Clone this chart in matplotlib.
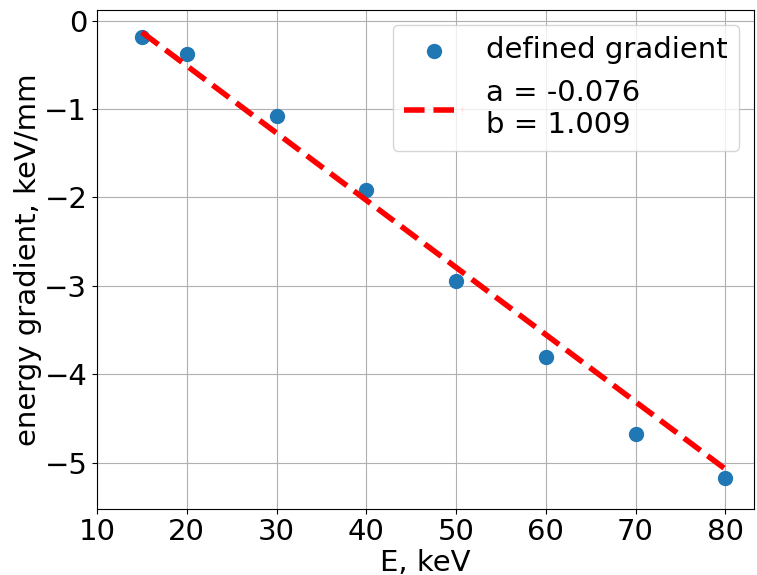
import matplotlib
matplotlib.use("Agg")
import matplotlib.pyplot as plt
import numpy as np

# measured energy gradient per beam energy
energy_kev = [15, 20, 30, 40, 50, 60, 70, 80]
gradient = [-0.18, -0.38, -1.08, -1.92, -2.94, -3.80, -4.68, -5.17]

# linear fit coefficients
fit_a = -0.076
fit_b = 1.009

plt.rcParams["font.size"] = 21

fig = plt.figure(figsize=(7.57, 5.75), dpi=100)
ax = fig.add_axes([97 / 757, (575 - 508.7) / 575, (754 - 97) / 757, (508.7 - 10) / 575])

ax.scatter(energy_kev, gradient, s=100, color="#1f77b4", label="defined gradient", zorder=2)
x_fit = np.array([energy_kev[0], energy_kev[-1]])
ax.plot(x_fit, fit_a * x_fit + fit_b, "--", color="red", lw=4,
        label=f"a = {fit_a:.3f}\nb = {fit_b:.3f}", zorder=3)

ax.set_xlim(10, 83.2)
ax.set_ylim(-5.52, 0.12)
ax.set_xticks([10, 20, 30, 40, 50, 60, 70, 80])
ax.set_yticks([0, -1, -2, -3, -4, -5])
ax.grid(True)
ax.set_xlabel("E, keV", labelpad=2)
ax.set_ylabel("energy gradient, keV/mm", labelpad=2)
ax.legend(loc="upper right")

fig.savefig("out.png", dpi=100)
